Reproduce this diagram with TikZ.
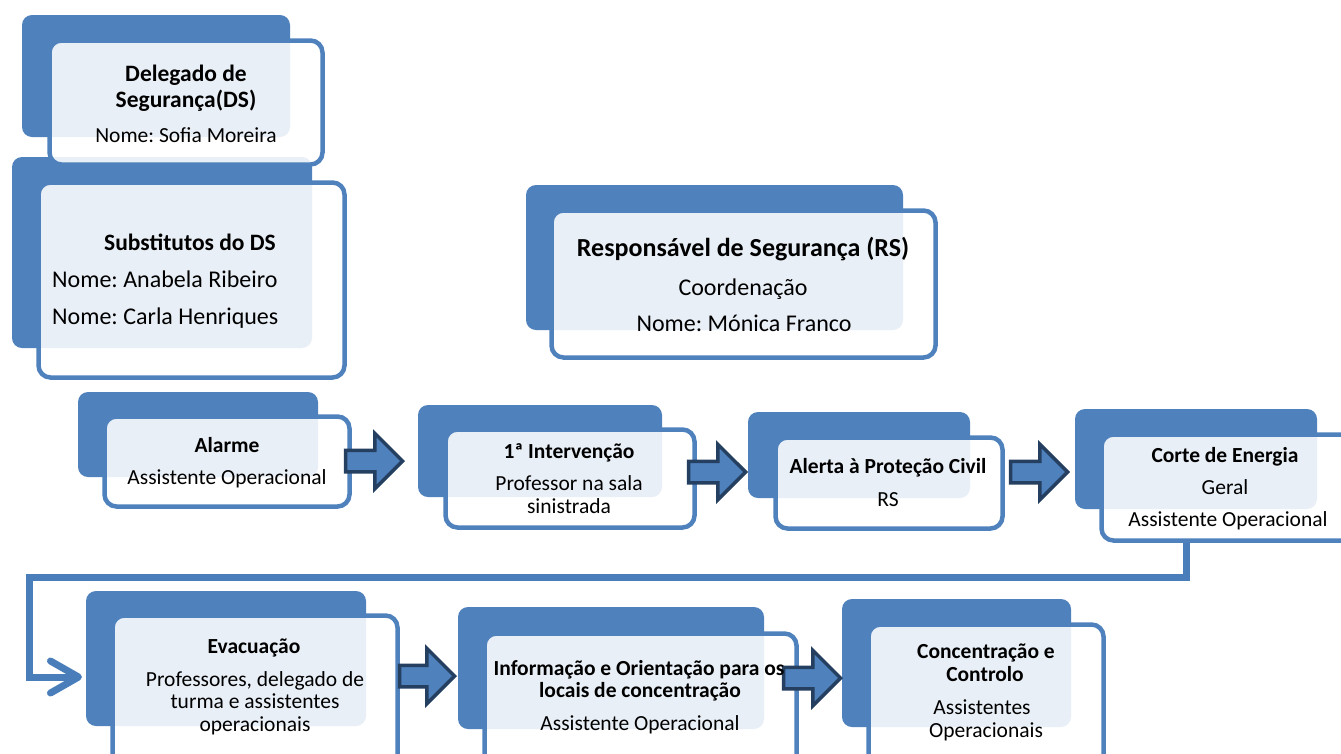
\documentclass[tikz,border=0pt]{standalone}
\usepackage{fontspec}
\setmainfont{Carlito}
\usetikzlibrary{shapes.arrows,fit,arrows.meta}
\definecolor{bkblue}{HTML}{4F81BD}
\definecolor{frblue}{HTML}{4F81BD}
\definecolor{navy}{HTML}{243F60}
\definecolor{lnblue}{HTML}{4A7EBB}
\frenchspacing
\begin{document}
\begin{tikzpicture}[x=1pt,y=-1pt,
  backbox/.style={fill=bkblue, rounded corners=10pt, inner sep=0pt, draw=none},
  frontbox/.style={fill=white, fill opacity=0.88, draw=frblue, draw opacity=1, line width=4.5pt, rounded corners=12pt, inner sep=0pt},
  blockarrow/.style={single arrow, fill=bkblue, draw=navy, line width=3.5pt, minimum width=52pt, minimum height=57pt, inner sep=9pt, single arrow head extend=17pt, anchor=tip},
  conn/.style={draw=lnblue, line width=7pt},
  tx/.style={font=\fontsize{21.5}{25}\selectfont, inner sep=0pt, anchor=base},
  tb/.style={tx, font=\fontsize{21.5}{25}\selectfont\bfseries},
  txl/.style={tx, font=\fontsize{24}{28}\selectfont},
  tbl/.style={tx, font=\fontsize{23.5}{28}\selectfont\bfseries},
  tbx/.style={tx, font=\fontsize{26}{30}\selectfont\bfseries}
]
\clip (0,0) rectangle (1341,753);
% back boxes
\node[backbox, fit={(22,15) (290,137)}] (bk-ds) {};
\node[backbox, fit={(12,157) (312,348)}] (bk-sub) {};
\node[backbox, fit={(526,185) (903,330)}] (bk-rs) {};
\node[backbox, fit={(78,392) (318,477)}] (bk-alarm) {};
\node[backbox, fit={(418,405) (662,497)}] (bk-int) {};
\node[backbox, fit={(748,412) (970,498)}] (bk-alert) {};
\node[backbox, fit={(1075,409) (1317,509)}] (bk-corte) {};
\node[backbox, fit={(86,591) (366,726)}] (bk-evac) {};
\node[backbox, fit={(458,607) (764,729)}] (bk-info) {};
\node[backbox, fit={(842,599) (1071,727)}] (bk-conc) {};
% front boxes
\node[frontbox, fit={(49.5,40.5) (322.5,164.5)}] (fr-ds) {};
\node[frontbox, fit={(38.5,182.5) (344.5,377.5)}] (fr-sub) {};
\node[frontbox, fit={(551.5,210.5) (935.5,357.5)}] (fr-rs) {};
\node[frontbox, fit={(104.5,416.5) (349.5,506.5)}] (fr-alarm) {};
\node[frontbox, fit={(445.5,429.5) (694.5,527.5)}] (fr-int) {};
\node[frontbox, fit={(775.5,437.5) (1002.5,528.5)}] (fr-alert) {};
\node[frontbox, fit={(1101.5,434.5) (1370,540.5)}] (fr-corte) {};
\node[frontbox, fit={(112.5,615.5) (397.5,790)}] (fr-evac) {};
\node[frontbox, fit={(484.5,633.5) (796.5,790)}] (fr-info) {};
\node[frontbox, fit={(868.5,624.5) (1103.5,790)}] (fr-conc) {};
% block arrows
\node[blockarrow] (ar1) at (405,461) {};
\node[blockarrow] (ar2) at (748,472) {};
\node[blockarrow] (ar3) at (1070,472) {};
\node[blockarrow, minimum height=55pt] (ar4) at (457,676) {};
\node[blockarrow] (ar5) at (843,678) {};
% connector
\coordinate (turn1) at (1186,577);
\coordinate (turn2) at (29,577);
\coordinate (turn3) at (29,677);
\coordinate (evin) at (82,677);
\draw[conn, -{Straight Barb[length=28pt,width=32pt,round]}] (fr-corte.south -| turn1) -- (turn1) -- (turn2) -- (turn3) -- (evin);
% texts
\node[tbl] (t-ds1) at (186,81) {Delegado de};
\node[tbl] (t-ds2) at (186,107) {Segurança(DS)};
\node[tx] (t-ds3) at (186,142) {Nome: Sofia Moreira};
\node[tbl] (t-sub1) at (190,250) {Substitutos do DS};
\node[txl, anchor=base west] (t-sub2) at (52,287) {Nome: Anabela Ribeiro};
\node[txl, anchor=base west] (t-sub3) at (52,324) {Nome: Carla Henriques};
\node[tbx] (t-rs1) at (743,256) {Responsável de Segurança (RS)};
\node[txl] (t-rs2) at (743,295) {Coordenação};
\node[txl] (t-rs3) at (744,331) {Nome: Mónica Franco};
\node[tb] (t-al1) at (227,452) {Alarme};
\node[tx] (t-al2) at (227,484) {Assistente Operacional};
\node[tb] (t-in1) at (569,458) {1ª Intervenção};
\node[tx] (t-in2) at (569,490) {Professor na sala};
\node[tx] (t-in3) at (569,513) {sinistrada};
\node[tb] (t-ae1) at (888,473) {Alerta à Proteção Civil};
\node[tx] (t-ae2) at (888,506) {RS};
\node[tb] (t-co1) at (1225,462) {Corte de Energia};
\node[tx] (t-co2) at (1225,494) {Geral};
\node[tx] (t-co3) at (1228,526) {Assistente Operacional};
\node[tb] (t-ev1) at (254,653) {Evacuação};
\node[tx] (t-ev2) at (255,686) {Professores, delegado de};
\node[tx] (t-ev3) at (255,708) {turma e assistentes};
\node[tx] (t-ev4) at (255,731) {operacionais};
\node[tb] (t-if1) at (639,675) {Informação e Orientação para os};
\node[tb] (t-if2) at (640,697) {locais de concentração};
\node[tx] (t-if3) at (640,730) {Assistente Operacional};
\node[tb] (t-cc1) at (986,658) {Concentração e};
\node[tb] (t-cc2) at (985,681) {Controlo};
\node[tx] (t-cc3) at (982,714) {Assistentes};
\node[tx] (t-cc4) at (986,737) {Operacionais};
\end{tikzpicture}
\end{document}
